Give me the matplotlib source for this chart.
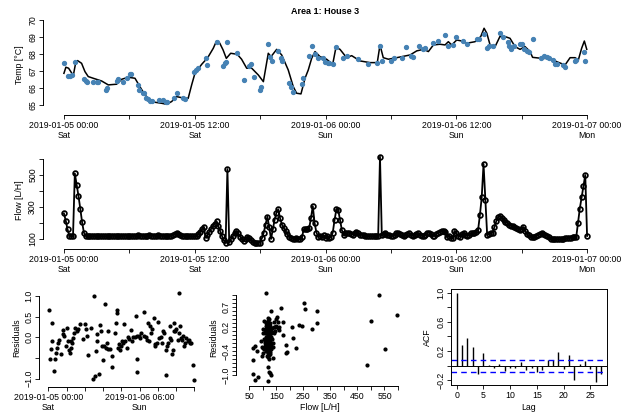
import numpy as np
import matplotlib
matplotlib.use("Agg")
import matplotlib.pyplot as plt

plt.rcParams['font.family'] = ['Liberation Sans', 'DejaVu Sans']
plt.rcParams['font.size'] = 6.3

# ---- data (hours since 2019-01-05 00:00) ----
temp_hours = [0.0, 0.34, 0.55, 0.76, 1.0, 1.86, 2.02, 2.14, 2.63, 3.0, 3.15, 3.82, 3.98, 4.83, 4.98,
              5.38, 5.75, 6.03, 6.15, 6.76, 6.9, 7.28, 7.37, 7.53, 7.68, 7.9, 8.05, 8.75, 9.06, 9.36,
              9.48, 10.1, 10.34, 10.95, 11.1, 11.93, 12.11, 12.27, 13.0, 13.1, 14.0, 14.56, 14.78, 14.9,
              14.99, 15.9, 16.55, 17.0, 17.13, 17.46, 17.99, 18.08, 18.69, 18.91, 19.06, 19.6, 19.92,
              20.03, 20.68, 20.83, 20.99, 21.8, 21.96, 22.5, 22.8, 23.0, 23.34, 23.8, 23.95, 24.2, 24.35,
              24.66, 24.96, 25.57, 26.0, 26.95, 27.93, 28.75, 29.0, 29.2, 29.98, 30.32, 31.0, 31.39,
              31.82, 32.0, 32.55, 32.9, 33.13, 33.9, 34.3, 34.97, 35.27, 35.73, 35.98, 36.59, 36.96,
              37.87, 38.1, 38.55, 38.8, 39.0, 39.35, 40.0, 40.26, 40.72, 40.87, 41.0, 41.32, 41.85,
              42.03, 42.2, 42.46, 42.7, 43.0, 43.75, 44.05, 44.3, 44.54, 44.9, 45.06, 45.27, 45.82,
              45.98, 46.9, 47.0, 47.73, 47.8]
temp_vals = [67.49, 66.7, 66.7, 66.76, 67.5, 66.5, 66.43, 66.37, 66.37, 66.37, 66.37, 65.88, 65.98, 66.43, 66.51,
             66.37, 66.57, 66.8, 66.8, 66.18, 65.88, 65.73, 65.69, 65.39, 65.33, 65.25, 65.25, 65.29, 65.29, 65.16,
             65.16, 65.39, 65.69, 65.39, 65.33, 66.92, 67.06, 67.16, 67.78, 67.35, 68.69, 67.29, 67.45, 67.55,
             68.69, 68.08, 66.47, 67.29, 67.39, 66.67, 65.88, 66.08, 68.59, 67.84, 67.59, 68.2, 67.78,
             67.59, 66.27, 66.08, 65.78, 66.22, 66.6, 67.88, 68.49, 68.0, 67.78, 67.78, 67.55, 67.49, 67.45,
             67.39, 68.39, 67.78, 67.9, 67.69, 67.39, 67.49, 68.49, 67.59, 67.59, 67.78, 67.78, 68.39,
             67.9, 67.8, 68.49, 68.27, 68.37, 68.63, 68.78, 69.12, 68.49, 68.53, 68.98, 68.78, 68.57,
             68.88, 68.88, 69.18, 68.37, 68.47, 68.47, 69.22, 69.02, 68.69, 68.49, 68.29, 68.49, 68.57,
             68.57, 68.29, 68.2, 68.1, 68.88, 67.74, 67.9, 67.84, 67.74, 67.65, 67.39, 67.39, 67.35,
             67.25, 67.59, 67.65, 68.1, 67.59]

fit_hours = [0.0, 0.18, 0.43, 0.73, 0.88, 1.07, 1.25, 1.62, 1.93, 2.23, 2.69, 3.46, 4.07, 4.83, 5.3, 5.9,
             6.52, 6.97, 7.43, 7.9, 8.35, 8.96, 9.42, 9.88, 10.34, 10.8, 11.4, 11.72, 12.02, 12.64, 13.19,
             13.7, 14.0, 14.3, 14.6, 14.9, 15.3, 15.9, 16.3, 16.77, 17.23, 17.84, 18.3, 18.75, 19.0, 19.52,
             19.98, 20.58, 21.04, 21.35, 21.75, 22.12, 22.42, 22.73, 23.04, 23.5, 24.1, 24.66, 24.96, 25.33,
             25.94, 26.4, 27.17, 28.08, 28.75, 29.0, 29.3, 29.77, 30.53, 31.76, 32.37, 32.98, 33.44, 33.9,
             34.5, 34.97, 35.27, 35.58, 36.04, 36.5, 36.96, 37.72, 38.24, 38.55, 38.8, 39.1, 39.56, 40.0,
             40.47, 40.93, 41.39, 41.85, 42.31, 42.77, 43.0, 43.84, 44.6, 45.2, 45.98, 46.44, 46.9, 47.2,
             47.5, 47.75, 47.97]
fit_vals = [66.86, 67.22, 67.16, 66.86, 66.8, 67.45, 67.61, 67.45, 66.96, 66.67, 66.57, 66.41, 66.18, 66.22, 66.51, 66.63,
            66.57, 66.08, 65.59, 65.29, 65.16, 65.1, 65.04, 65.2, 65.49, 65.43, 65.39, 66.18, 66.86, 67.39, 67.78,
            68.33, 68.76, 68.63, 68.24, 67.74, 68.04, 67.98, 67.69, 67.16, 67.16, 66.76, 66.37, 68.04, 67.84, 68.27,
            67.94, 67.06, 66.08, 65.69, 65.65, 66.57, 67.06, 67.74, 68.14, 67.84, 67.69, 67.39, 68.39, 68.27,
            67.78, 67.9, 67.59, 67.49, 67.49, 68.53, 67.78, 67.69, 67.78, 67.94, 68.18, 68.27, 68.14, 68.53,
            68.57, 68.53, 68.72, 68.53, 68.82, 68.76, 68.63, 68.72, 69.02, 69.51, 69.22, 68.53, 68.43, 69.02,
            69.02, 68.92, 68.43, 68.27, 68.43, 68.14, 67.8, 67.74, 67.74, 67.55, 67.35, 67.78, 67.78, 67.65,
            68.33, 68.76, 68.27]

# flow every 10 minutes, 00:00 Sat to 00:00 Mon
flow_vals = [
    260, 215, 160, 120, 118, 117, 510, 440, 370, 290, 205, 140,
    120, 119, 118, 117, 118, 119, 120, 119, 118, 117, 116, 117,
    118, 119, 120, 121, 120, 119, 118, 118, 119, 120, 121, 120,
    119, 118, 119, 120, 121, 122, 121, 120, 119, 120, 121, 122,
    121, 120, 120, 121, 122, 121, 120, 119, 118, 118, 119, 120,
    122, 130, 138, 130, 122, 118, 117, 116, 116, 117, 116, 116,
    117, 118, 130, 146, 162, 178, 108, 125, 145, 163, 180, 196,
    212, 180, 150, 120, 92, 75, 537, 80, 100, 118, 135, 150,
    135, 115, 100, 90, 102, 113, 105, 92, 80, 77, 77, 77,
    78, 105, 140, 190, 240, 175, 100, 160, 220, 265, 286, 230,
    190, 170, 150, 130, 115, 106, 102, 100, 104, 100, 98, 110,
    160, 163, 165, 168, 230, 306, 200, 140, 115, 118, 110, 125,
    108, 120, 105, 115, 140, 220, 285, 280, 220, 156, 125, 135,
    138, 140, 133, 128, 138, 145, 135, 128, 125, 122, 120, 119,
    118, 118, 118, 119, 118, 120, 614, 122, 130, 135, 128, 122,
    118, 119, 128, 136, 140, 130, 122, 119, 125, 132, 135, 128,
    120, 122, 132, 135, 128, 121, 119, 128, 138, 140, 130, 121,
    120, 130, 140, 145, 148, 152, 145, 110, 120, 108, 104, 150,
    135, 120, 115, 130, 140, 128, 120, 125, 135, 138, 140, 145,
    156, 250, 360, 569, 344, 125, 130, 135, 140, 175, 210, 235,
    244, 232, 218, 208, 200, 190, 184, 180, 175, 168, 162, 156,
    165, 173, 150, 130, 122, 115, 110, 112, 120, 125, 130, 135,
    133, 125, 119, 110, 102, 98, 98, 98, 99, 98, 100, 102,
    104, 105, 107, 108, 110, 110, 110, 200, 290, 360, 430, 500,
    119]
flow_hours = np.arange(len(flow_vals)) / 6.0

res_hours = [0.33, 0.55, 0.88, 1.32, 1.32, 1.98, 2.2, 2.53, 2.97, 3.3, 3.52, 4.18, 4.73, 4.95, 5.27, 5.71,
             6.04, 6.37, 6.81, 7.14, 7.36, 7.47, 7.69, 8.02, 8.46, 8.9, 9.34, 9.89, 10.44, 11.32, 12.09,
             12.31, 12.86, 13.19, 13.96, 14.84, 15.16, 15.38, 15.71, 15.93, 16.15, 16.7, 17.03, 17.36,
             17.58, 18.13, 18.46, 18.79, 19.01, 19.23, 19.56, 19.78, 20.33, 20.88, 21.1, 21.98, 22.2,
             22.53, 22.75, 23.08, 23.41, 23.63, 23.96, 24.4, 24.73, 25.05, 25.27, 25.82, 26.15, 26.7,
             27.14, 27.47, 28.02, 28.57, 28.9, 29.12, 29.23, 29.34, 29.67, 30.22, 30.55, 31.32, 31.54,
             32.09, 32.42, 32.64, 32.97, 33.3, 33.85, 34.07, 34.62, 34.95, 35.16, 35.71, 36.04, 36.48,
             37.14, 37.36, 37.69, 38.13, 38.68, 38.79, 39.01, 39.34, 39.89, 40.11, 40.44, 40.77, 40.99,
             41.21, 41.43, 41.76, 42.09, 42.53, 42.86, 43.08, 43.19, 43.63, 43.96, 44.29, 44.73, 45.05,
             45.38, 45.82, 46.37, 46.7, 47.03, 47.47, 47.8]
res_vals = [0.66, -0.53, -0.29, 0.35, -0.08, -0.81, -0.53, -0.38, -0.25, -0.13, -0.06, -0.4, 0.08, 0.18, 0.02, -0.22,
            0.22, -0.1, -0.3, -0.37, -0.26, -0.1, -0.14, -0.02, 0.1, 0.22, 0.14, 0.19, 0.31, -0.05, 0.31,
            0.19, 0.03, -0.42, 0.23, -1.01, 1.0, -0.94, -0.34, -0.1, 0.08, -0.88, 0.3, 0.16,
            -0.21, -0.54, -0.22, 0.8, -0.26, -0.14, -0.29, 0.16, -0.29, -0.72, -0.45, 0.1, 0.35,
            0.66, 0.58, -0.25, -0.16, -0.3, -0.22, -0.1, -0.14, 0.31, -0.1, -0.26, 0.0, -0.05,
            0.18, -0.08, 0.0, 0.0, 0.51, 0.03, -0.53, -0.85, 0.02, -0.02, 0.1, 0.62, 0.03,
            0.0, -0.06, 0.34, -0.1, 0.26, 0.11, 0.19, 0.46, -0.22, -0.16, -0.13, 0.38, -0.02,
            0.0, -0.13, 0.16, 0.11, -0.3, -0.9, -0.21, -0.14, 0.27, -0.02, -0.06, -0.4, -0.3,
            0.16, 0.34, 0.14, 0.19, -0.06, 0.1, 1.06, 0.27, -0.02, -0.06, 0.03, -0.22, -0.14,
            -0.02, -0.1, -0.06, -0.14, -0.13, -0.66, -1.04]

rf_flow = [112, 254, 256, 302, 302, 281, 235, 244, 207, 213, 223, 186, 188, 186, 174, 167, 157, 151, 149,
           141, 130, 161, 176, 120, 65, 71, 77, 62, 65, 71, 83, 96, 102, 108, 108, 114, 120, 124, 126,
           129, 120, 136, 124, 114, 485, 501, 528, 553, 596,
           105, 110, 115, 118, 120, 122, 125, 128, 112, 108, 115, 120, 125, 130, 135, 140, 145, 150,
           118, 122, 126, 110, 114, 117, 121, 124, 128, 132, 100, 103, 107, 112, 116, 120, 125, 130,
           135, 98, 104, 110, 115, 119, 123, 127, 132, 138, 95, 100, 113, 117, 121, 126, 119, 111,
           129, 133, 116, 124, 120, 128, 118, 123, 140, 145, 155, 160, 138, 108, 102]
rf_res = [1.04, 0.81, 0.66, 0.59, 0.3, 0.15, 0.26, 0.22, 0.19, -0.07, -0.32, -0.26, -0.43, -0.46, 0.33, 0.67,
          0.32, 0.46, 0.39, 0.33, 0.61, 0.13, -0.01, 0.27, -0.32, -0.28, -0.41, -0.62, -0.98, -1.13, -1.04,
          -0.52, -0.32, -0.15, 0.06, -0.32, -0.81, -0.92, -0.96, -1.0, -1.15, -0.58, -0.6, -0.52, -0.75,
          0.34, 1.0, -0.36, 0.51,
          0.35, 0.3, 0.32, 0.25, 0.2, 0.28, 0.22, 0.3, 0.15, 0.12, 0.1, 0.08, 0.12, 0.15, 0.18, 0.2, 0.2,
          0.22, 0.0, -0.02, 0.02, -0.05, -0.1, -0.05, -0.12, -0.08, -0.15, -0.05, 0.05, -0.1, -0.2, -0.22,
          -0.18, -0.25, -0.3, -0.22, -0.1, -0.3, -0.35, -0.4, -0.35, -0.45, -0.38, -0.42, -0.35, -0.3,
          -0.15, -0.45, 0.05, 0.15, 0.12, -0.2, 0.35, 0.22, 0.05, 0.08, -0.28, -0.5, -0.55, -0.48, 0.42,
          0.4, 0.05, 0.1, 0.18, 0.2, -0.2, -0.28, 0.15]

acf_lags = list(range(28))
acf_vals = [1.0, 0.29, 0.377, 0.255, -0.118, 0.173, 0.01, -0.027, 0.018, -0.068, -0.036, -0.036, 0.045,
            -0.064, -0.03, -0.09, -0.055, 0.082, 0.082, 0.186, -0.04, 0.145, -0.19, 0.02, 0.064, -0.045,
            -0.218, -0.118]
acf_ci = 0.08

time_ticks = [0, 6, 12, 18, 24, 30, 36, 42, 48]
time_labels = ["2019-01-05 00:00\nSat", "", "2019-01-05 12:00\nSat", "", "2019-01-06 00:00\nSun", "",
               "2019-01-06 12:00\nSun", "", "2019-01-07 00:00\nMon"]
res_time_labels = ["2019-01-05 00:00\nSat", "", "", "", "", "2019-01-06 06:00\nSun", "", "", ""]

# ---- figure ----
W, H = 633, 416
fig = plt.figure(figsize=(W / 100, H / 100), dpi=100)


def px_axes(l, t, r, b):
    return fig.add_axes([l / W, 1 - b / H, (r - l) / W, (b - t) / H])


def r_style(ax, box=False):
    ax.tick_params(direction='out', length=3, width=0.6, pad=1.2, labelsize=6.3)
    for s in ax.spines.values():
        s.set_linewidth(0.7)
    if not box:
        ax.spines['top'].set_visible(False)
        ax.spines['right'].set_visible(False)


def set_yticks(ax, ticks, labels):
    ax.set_yticks(ticks)
    ax.set_yticklabels(labels, rotation=90, va='center')


# temperature
ax1 = px_axes(43, 15, 608, 115)
ax1.plot(fit_hours, fit_vals, color='black', lw=1.1)
ax1.plot(temp_hours, temp_vals, 'o', color='#4682B4', ms=2.8, mec='#4682B4')
ax1.set_xlim(-1.92, 49.92)
ax1.set_ylim(64.41, 70.29)
r_style(ax1)
ax1.set_xticks(time_ticks)
ax1.set_xticklabels(time_labels)
set_yticks(ax1, [65, 66, 67, 68, 69, 70], ['65', '66', '67', '68', '69', '70'])
ax1.spines['left'].set_bounds(65, 70)
ax1.spines['bottom'].set_bounds(0, 48)
fig.text(325 / W, 1 - 12 / H, "Area 1: House 3", ha='center', va='center', fontweight='bold', fontsize=6.5)
fig.text(19 / W, 1 - 65 / H, "Temp [°C]", rotation=90, ha='center', va='center')

# flow
ax2 = px_axes(43, 150, 608, 249)
ax2.plot(flow_hours, flow_vals, '-o', color='black', lw=1.3, ms=3.4, mfc='none', mec='black', mew=1.25)
ax2.set_xlim(-1.92, 49.92)
ax2.set_ylim(37.5, 656)
r_style(ax2)
ax2.set_xticks(time_ticks)
ax2.set_xticklabels(time_labels)
set_yticks(ax2, [100, 200, 300, 400, 500, 600], ['100', '', '300', '', '500', ''])
ax2.spines['left'].set_bounds(100, 600)
ax2.spines['bottom'].set_bounds(0, 48)
fig.text(19 / W, 1 - 200 / H, "Flow [L/H]", rotation=90, ha='center', va='center')

# residuals vs time
ax3 = px_axes(39, 290, 200, 387)
ax3.plot(res_hours, res_vals, 'o', color='black', ms=2.0)
ax3.set_xlim(-3.06, 49.9)
ax3.set_ylim(-1.2, 1.14)
r_style(ax3)
ax3.set_xticks(time_ticks)
ax3.set_xticklabels(res_time_labels)
set_yticks(ax3, [-1.0, -0.5, 0.0, 0.5, 1.0], ['\u22121.0', '', '0.0', '0.5', '1.0'])
ax3.spines['left'].set_bounds(-1.0, 1.0)
ax3.spines['bottom'].set_bounds(0, 48)
fig.text(17 / W, 1 - 338 / H, "Residuals", rotation=90, ha='center', va='center')

# residuals vs flow
ax4 = px_axes(236, 290, 405, 386)
ax4.plot(rf_flow, rf_res, 'o', color='black', ms=2.0)
ax4.set_xlim(0.7, 626)
ax4.set_ylim(-1.275, 1.125)
r_style(ax4)
xt = list(range(50, 601, 50))
ax4.set_xticks(xt)
ax4.set_xticklabels([str(v) if v % 100 == 50 else '' for v in xt])
yt = [round(-1.0 + 0.1 * k, 1) for k in range(21)]
ylab = {-1.0: '\u22121.0', -0.4: '\u22120.4', 0.2: '0.2', 0.7: '0.7'}
set_yticks(ax4, yt, [ylab.get(v, '') for v in yt])
ax4.spines['left'].set_bounds(-1.0, 1.0)
ax4.spines['bottom'].set_bounds(50, 600)
fig.text(214 / W, 1 - 338 / H, "Residuals", rotation=90, ha='center', va='center')
fig.text(320 / W, 1 - 408 / H, "Flow [L/H]", ha='center', va='center')

# ACF
ax5 = px_axes(451, 289, 607, 385)
ax5.vlines(acf_lags, 0, acf_vals, color='black', lw=1.0)
ax5.axhline(0, color='black', lw=0.7)
ax5.axhline(acf_ci, color='#0000FF', lw=1.0, ls=(0, (4, 3)))
ax5.axhline(-acf_ci, color='#0000FF', lw=1.0, ls=(0, (4, 3)))
ax5.set_xlim(-1.05, 28.1)
ax5.set_ylim(-0.263, 1.049)
r_style(ax5, box=True)
ax5.set_xticks([0, 5, 10, 15, 20, 25])
set_yticks(ax5, [-0.2, 0.0, 0.2, 0.4, 0.6, 0.8, 1.0], ['\u22120.2', '', '0.2', '', '0.6', '', '1.0'])
fig.text(427 / W, 1 - 337 / H, "ACF", rotation=90, ha='center', va='center')
fig.text(529 / W, 1 - 408 / H, "Lag", ha='center', va='center')

fig.savefig("out.png", dpi=100)
